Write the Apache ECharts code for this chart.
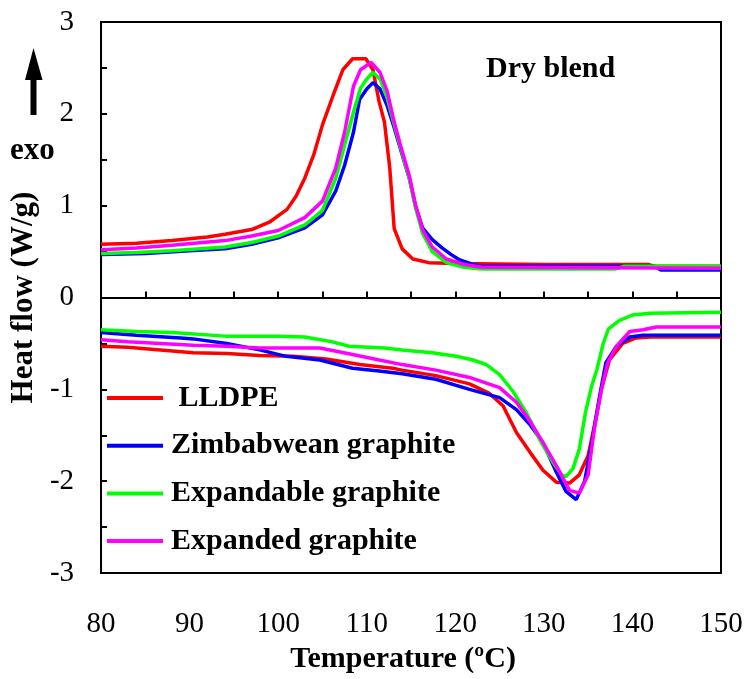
<!DOCTYPE html>
<html><head><meta charset="utf-8">
<script src="https://cdn.jsdelivr.net/npm/echarts@6/dist/echarts.min.js"></script>
<style>html,body{margin:0;padding:0;background:#fff}#c{width:747px;height:679px}</style>
</head><body><div id="c"></div>
<script>
const seriesNames = ['LLDPE', 'Zimbabwean graphite', 'Expandable graphite', 'Expanded graphite'];
const seriesColors = ['#ff0000', '#0000ff', '#00ff00', '#ff00ff'];

// Cooling (exotherm) curves
const lldpeCoolT = [80, 84, 88, 92, 94, 97, 99, 101, 102, 103, 104, 105, 106.2, 107.3, 108.4, 109.9, 110.7, 111.4, 112, 112.6, 113.1, 114, 115.2, 117, 120, 130, 141.8, 142.5, 150];
const lldpeCoolY = [0.58, 0.59, 0.62, 0.66, 0.69, 0.74, 0.82, 0.96, 1.1, 1.3, 1.55, 1.88, 2.2, 2.48, 2.6, 2.6, 2.48, 2.13, 1.91, 1.41, 0.75, 0.53, 0.42, 0.38, 0.37, 0.36, 0.36, 0.34, 0.34];

const zimCoolT = [80, 85, 90, 94, 97, 100, 103, 105, 106.5, 107.5, 108.5, 109.2, 110, 110.7, 111.5, 112.3, 113, 113.8, 114.8, 115.5, 116.3, 117.4, 118.5, 119.5, 120.5, 122, 123.1, 142.5, 143.2, 150];
const zimCoolY = [0.47, 0.48, 0.51, 0.53, 0.58, 0.65, 0.76, 0.9, 1.16, 1.44, 1.8, 2.16, 2.27, 2.34, 2.27, 2.09, 1.88, 1.62, 1.3, 1.0, 0.76, 0.63, 0.54, 0.47, 0.41, 0.36, 0.34, 0.34, 0.3, 0.3];

const expandableCoolT = [80, 84, 88, 94, 97, 100, 103, 105, 106.5, 107.5, 108.5, 109.3, 110, 110.7, 111.5, 112.3, 113, 113.8, 114.8, 115.5, 116.3, 117.4, 119, 121, 123, 138, 139, 150];
const expandableCoolY = [0.48, 0.49, 0.51, 0.55, 0.6, 0.67, 0.79, 0.95, 1.3, 1.66, 2.02, 2.28, 2.38, 2.45, 2.38, 2.18, 1.92, 1.64, 1.3, 0.98, 0.7, 0.5, 0.38, 0.33, 0.31, 0.31, 0.34, 0.34];

const expandedCoolT = [80, 84, 88, 94, 97, 100, 103, 105, 106.5, 107.5, 108.5, 109.3, 110.5, 111.5, 112.3, 113, 113.8, 114.8, 115.5, 116.3, 117.4, 119, 121, 123, 150];
const expandedCoolY = [0.52, 0.54, 0.57, 0.62, 0.67, 0.73, 0.87, 1.05, 1.41, 1.8, 2.3, 2.48, 2.56, 2.45, 2.25, 1.95, 1.66, 1.33, 1.01, 0.74, 0.55, 0.42, 0.36, 0.33, 0.32];

// Heating (endotherm) curves
const lldpeHeatT = [80, 83, 86.7, 90.4, 94.2, 97.9, 101.7, 105.4, 109.2, 112.9, 114, 117.8, 121.6, 123.8, 125.4, 126.9, 128.4, 129.9, 131.4, 132.9, 134.0, 135.0, 135.7, 136.5, 137.4, 138.9, 140.4, 142, 150];
const lldpeHeatY = [-0.53, -0.54, -0.57, -0.6, -0.61, -0.63, -0.64, -0.67, -0.73, -0.77, -0.79, -0.85, -0.94, -1.04, -1.18, -1.47, -1.68, -1.88, -2.01, -2.02, -1.93, -1.72, -1.4, -1.0, -0.68, -0.5, -0.44, -0.43, -0.43];

const zimHeatT = [80, 84, 89, 90.4, 94.2, 97.9, 100.9, 104.7, 108.4, 111.4, 114, 117.8, 121.6, 125, 126.9, 128.4, 129.9, 131.4, 132.5, 133.65, 134.6, 135.35, 136.3, 137.0, 138.2, 139.7, 141.2, 150];
const zimHeatY = [-0.38, -0.41, -0.44, -0.45, -0.5, -0.57, -0.64, -0.68, -0.77, -0.8, -0.83, -0.89, -1.0, -1.09, -1.22, -1.38, -1.58, -1.9, -2.11, -2.2, -2.0, -1.61, -1.07, -0.71, -0.53, -0.43, -0.41, -0.41];

const expandableHeatT = [80, 84, 88, 94, 100, 103, 106, 108, 112, 114, 117.4, 120.1, 122, 123.5, 125, 126.5, 128, 129.5, 131, 132, 132.5, 133.3, 134, 134.7, 135.4, 136, 136.7, 137.3, 138.5, 140, 142, 150];
const expandableHeatY = [-0.35, -0.37, -0.38, -0.42, -0.42, -0.43, -0.48, -0.53, -0.55, -0.57, -0.6, -0.64, -0.68, -0.73, -0.84, -1.02, -1.25, -1.54, -1.79, -1.93, -1.95, -1.86, -1.65, -1.25, -0.96, -0.78, -0.5, -0.34, -0.25, -0.19, -0.17, -0.16];

const expandedHeatT = [80, 83, 86.7, 90.4, 94.2, 97.9, 104.7, 108.4, 111.4, 114, 117.8, 121.6, 125, 126.9, 128.4, 129.9, 131.4, 132.9, 134, 135, 135.7, 136.5, 137.2, 138.2, 139.7, 141.2, 142.7, 150];
const expandedHeatY = [-0.46, -0.48, -0.5, -0.52, -0.53, -0.55, -0.55, -0.62, -0.68, -0.73, -0.79, -0.87, -0.98, -1.14, -1.34, -1.58, -1.83, -2.1, -2.13, -1.93, -1.43, -1.0, -0.71, -0.53, -0.37, -0.35, -0.32, -0.32];

const xMin = 80, xMax = 150, xTickStep = 5, xLabelStep = 10;
const yMin = -3, yMax = 3, yTickStep = 0.5;
const xTitle = 'Temperature (ºC)';
const yTitle = 'Heat flow (W/g)';
const panelLabel = 'Dry blend';
const exoLabel = 'exo';

const curves = [
  [lldpeCoolT, lldpeCoolY, lldpeHeatT, lldpeHeatY],
  [zimCoolT, zimCoolY, zimHeatT, zimHeatY],
  [expandableCoolT, expandableCoolY, expandableHeatT, expandableHeatY],
  [expandedCoolT, expandedCoolY, expandedHeatT, expandedHeatY]
];
const zip = (a, b) => a.map((v, i) => [v, b[i]]);

const FONT = "'Times New Roman', 'Liberation Serif', serif";
const series = [];
curves.forEach((c, i) => {
  [[c[0], c[1]], [c[2], c[3]]].forEach(([t, y]) => {
    series.push({
      name: seriesNames[i], type: 'line', data: zip(t, y),
      showSymbol: false, symbol: 'none', smooth: false,
      lineStyle: { color: seriesColors[i], width: 3.5 },
      itemStyle: { color: seriesColors[i] }, z: 2 + i
    });
  });
});

const chart = echarts.init(document.getElementById('c'), null, { renderer: 'canvas' });
chart.setOption({
  animation: false,
  backgroundColor: '#ffffff',
  grid: { left: 97, right: 26, top: 22, bottom: 100, show: true, borderColor: '#000', borderWidth: 2, backgroundColor: 'transparent' },
  xAxis: {
    type: 'value', min: xMin, max: xMax, interval: xTickStep,
    name: xTitle, nameLocation: 'middle', nameGap: 64,
    nameTextStyle: { fontFamily: FONT, fontWeight: 'bold', fontSize: 30, color: '#000', padding: [0, 16, 0, 0] },
    axisLine: { show: true, lineStyle: { color: '#000', width: 2 } },
    axisTick: { show: true, inside: true, length: 6, lineStyle: { color: '#000', width: 2 } },
    axisLabel: { margin: 37, fontFamily: FONT, fontSize: 29, color: '#000',
      formatter: v => (Math.round(v) % xLabelStep === 0 ? String(v) : '') },
    splitLine: { show: false }
  },
  yAxis: {
    type: 'value', min: yMin, max: yMax, interval: yTickStep,
    name: yTitle, nameLocation: 'middle', nameGap: 60, nameRotate: 90,
    nameTextStyle: { fontFamily: FONT, fontWeight: 'bold', fontSize: 31, color: '#000' },
    axisLine: { show: true, lineStyle: { color: '#000', width: 2 } },
    axisTick: { show: true, inside: true, length: 6, lineStyle: { color: '#000', width: 2 } },
    axisLabel: { margin: 27, fontFamily: FONT, fontSize: 29, color: '#000', padding: [3, 0, 0, 0],
      formatter: v => (Number.isInteger(v) ? String(v) : '') },
    splitLine: { show: false }
  },
  legend: {
    data: seriesNames, orient: 'vertical', left: 107, top: 383, padding: 0,
    icon: 'rect', itemWidth: 56, itemHeight: 4, itemGap: 17.7,
    formatter: n => (n === 'LLDPE' ? ' LLDPE' : n),
    textStyle: { fontFamily: FONT, fontWeight: 'bold', fontSize: 30, lineHeight: 30, color: '#000', padding: [0, 0, 0, 3] },
    selectedMode: false
  },
  graphic: [
    { type: 'text', left: 486, top: 54, style: { text: panelLabel, font: "bold 30px 'Times New Roman', 'Liberation Serif', serif", fill: '#000' } },
    { type: 'polygon', shape: { points: [[33.5, 48], [25, 80], [30.5, 80], [30.5, 115], [36.5, 115], [36.5, 80], [42.5, 80]] }, style: { fill: '#000' } },
    { type: 'text', left: 10, top: 135, style: { text: exoLabel, font: "bold 31px 'Times New Roman', 'Liberation Serif', serif", fill: '#000' } }
  ],
  series: series
});
</script></body></html>
